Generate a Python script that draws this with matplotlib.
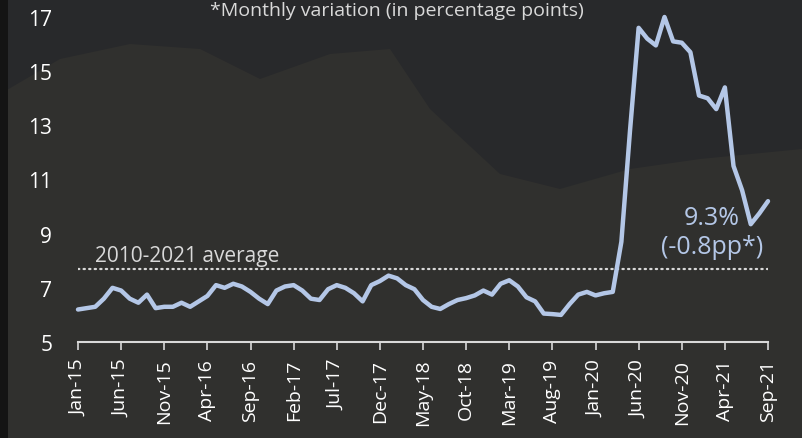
import matplotlib.pyplot as plt
from matplotlib.patches import Polygon

# monthly series, Jan-15 .. Sep-21
months = ['Jan', 'Feb', 'Mar', 'Apr', 'May', 'Jun',
          'Jul', 'Aug', 'Sep', 'Oct', 'Nov', 'Dec']
dates = [f"{m}-{y}" for y in range(15, 22) for m in months][:81]

rate = [6.20, 6.25, 6.30, 6.60, 7.00, 6.90, 6.60, 6.45, 6.75, 6.25, 6.30, 6.30,
        6.45, 6.30, 6.50, 6.70, 7.10, 7.00, 7.15, 7.05, 6.85, 6.60, 6.40, 6.90,
        7.05, 7.10, 6.90, 6.60, 6.55, 6.95, 7.10, 7.00, 6.80, 6.50, 7.10, 7.25,
        7.45, 7.35, 7.10, 6.95, 6.55, 6.30, 6.22, 6.40, 6.55, 6.62, 6.72, 6.90,
        6.75, 7.15, 7.28, 7.05, 6.65, 6.50, 6.05, 6.03, 6.00, 6.40, 6.75, 6.85,
        6.72, 6.80, 6.85, 8.70, 12.80, 16.60, 16.20, 15.95, 17.00, 16.10, 16.05, 15.70,
        14.10, 14.00, 13.60, 14.40, 11.50, 10.60, 9.35, 9.75, 10.20]

average = 7.7
yticks = [5, 7, 9, 11, 13, 15, 17]

LINE = '#B4C7E7'
GRAY = '#D9D9D9'

plt.rcParams['font.family'] = ['Open Sans', 'DejaVu Sans']

W, H = 802, 439
fig = plt.figure(figsize=(W / 100, H / 100), dpi=100)
fig.patch.set_facecolor('#28292b')

# rough backdrop: darker strip on the left and a faint mountain
def px(pts):
    return [(x / W, 1 - y / H) for x, y in pts]

fig.patches.append(Polygon(px([(0, 439), (0, 95), (60, 60), (130, 45), (200, 50), (260, 80),
                               (330, 55), (390, 50), (430, 110), (500, 175), (560, 190),
                               (630, 170), (700, 160), (802, 150), (802, 439)]),
                           closed=True, transform=fig.transFigure, facecolor='#30302e',
                           edgecolor='none', zorder=-5))
fig.patches.append(Polygon(px([(0, 0), (8, 0), (8, 439), (0, 439)]), closed=True,
                           transform=fig.transFigure, facecolor='#141414',
                           edgecolor='none', zorder=-5))

ax = fig.add_axes([78 / W, 1 - 343 / H, 690 / W, (343 - 18) / H])
ax.set_facecolor('none')
ax.set_zorder(2)

x = list(range(len(rate)))
ax.plot(x, rate, color=LINE, lw=3.2, solid_joinstyle='round',
        solid_capstyle='round', clip_on=False, zorder=3)
ax.plot([0, len(rate) - 1], [average, average], color=GRAY, lw=1.6,
        linestyle=(0, (0.6, 1.9)), dash_capstyle='round', zorder=2)

ax.text(2, 7.99, '2010-2021 average', color=GRAY, fontsize=15,
        ha='left', va='baseline')
ax.text(73.5, 9.06, '9.3%\n(-0.8pp*)', color=LINE, fontsize=18,
        ha='center', va='center', linespacing=1.2)

ax.set_xlim(0, len(rate) - 1)
ax.set_ylim(5, 17)
ax.set_yticks(yticks)
ax.set_xticks(x[::5])
ax.set_xticklabels(dates[::5], rotation=90)

for s in ['top', 'right', 'left']:
    ax.spines[s].set_visible(False)
ax.spines['bottom'].set_color(GRAY)
ax.spines['bottom'].set_linewidth(1.5)
ax.tick_params(axis='y', length=0, pad=18.5, labelsize=15, labelcolor='white')
ax.tick_params(axis='x', length=6, width=1.2, color=GRAY, pad=6,
               labelsize=14, labelcolor='white')

fig.text(210 / W, 1 - 16 / H, '*Monthly variation (in percentage points)',
         color=GRAY, fontsize=14, ha='left', va='baseline')

fig.savefig('out.png', dpi=100, facecolor=fig.get_facecolor())
